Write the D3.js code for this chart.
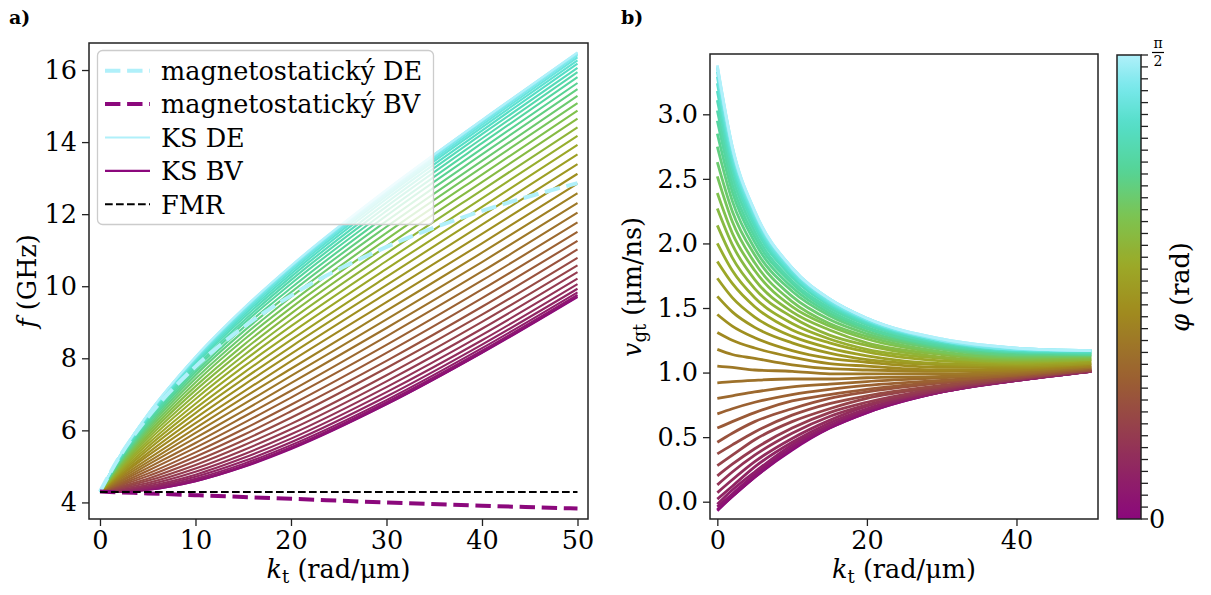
<!DOCTYPE html>
<html lang="cs">
<head>
<meta charset="UTF-8">
<title>Disperze spinových vln</title>
<script src="https://d3js.org/d3.v7.min.js"></script>
<style>
  body { margin: 0; background: #fff; }
  svg { display: block; font-family: "DejaVu Serif", serif; }
  .tick text { font-size: 25.5px; fill: #000; font-family: "DejaVu Serif", serif; }
  .tick line { stroke: #222; stroke-width: 1.3px; }
</style>
</head>
<body>
<script>
// k_t sampling points (rad/um), shared by both panels
const kGrid = [0, 2, 5, 10, 15, 20, 30, 40, 50];

// angle of every curve (rad), also the minor ticks of the colorbar
const phiValues = [0, 0.0403, 0.0806, 0.1208, 0.1611, 0.2014, 0.2417, 0.2819, 0.3222, 0.3625,
  0.4028, 0.4430, 0.4833, 0.5236, 0.5639, 0.6042, 0.6444, 0.6847, 0.7250, 0.7653,
  0.8055, 0.8458, 0.8861, 0.9264, 0.9666, 1.0069, 1.0472, 1.0875, 1.1278, 1.1680,
  1.2083, 1.2486, 1.2889, 1.3291, 1.3694, 1.4097, 1.4500, 1.4902, 1.5305, 1.5708];

// panel a) KS frequency f (GHz): one row per k in kGrid, one column per phi
const fTable = [
  [4.30,4.30,4.30,4.30,4.30,4.30,4.30,4.30,4.30,4.30,4.30,4.30,4.30,4.30,4.30,4.30,4.30,4.30,4.30,4.30,
   4.30,4.30,4.30,4.30,4.30,4.30,4.30,4.30,4.30,4.30,4.30,4.30,4.30,4.30,4.30,4.30,4.30,4.30,4.30,4.30],
  [4.29,4.29,4.30,4.31,4.32,4.34,4.35,4.38,4.40,4.43,4.46,4.49,4.52,4.56,4.59,4.63,4.67,4.71,4.74,4.78,
   4.82,4.86,4.90,4.94,4.97,5.01,5.04,5.07,5.10,5.13,5.15,5.17,5.19,5.21,5.23,5.24,5.25,5.26,5.26,5.26],
  [4.35,4.35,4.36,4.39,4.41,4.45,4.49,4.54,4.60,4.66,4.73,4.80,4.88,4.96,5.04,5.12,5.20,5.29,5.37,5.46,
   5.54,5.62,5.70,5.78,5.85,5.92,5.99,6.05,6.11,6.17,6.22,6.27,6.31,6.34,6.37,6.40,6.42,6.43,6.44,6.45],
  [4.59,4.59,4.62,4.66,4.71,4.77,4.85,4.94,5.04,5.15,5.27,5.39,5.52,5.65,5.79,5.93,6.06,6.20,6.34,6.48,
   6.61,6.74,6.87,6.99,7.11,7.22,7.33,7.43,7.53,7.61,7.69,7.76,7.83,7.88,7.93,7.97,8.00,8.02,8.04,8.04],
  [4.98,4.99,5.02,5.07,5.14,5.23,5.33,5.45,5.58,5.72,5.87,6.03,6.20,6.37,6.54,6.72,6.90,7.07,7.25,7.42,
   7.59,7.76,7.92,8.07,8.22,8.36,8.50,8.62,8.74,8.85,8.95,9.03,9.11,9.18,9.24,9.29,9.33,9.36,9.37,9.38],
  [5.48,5.50,5.53,5.59,5.67,5.77,5.89,6.03,6.18,6.35,6.53,6.71,6.91,7.10,7.31,7.51,7.71,7.92,8.12,8.32,
   8.51,8.70,8.89,9.07,9.24,9.40,9.55,9.70,9.83,9.95,10.07,10.17,10.26,10.34,10.41,10.47,10.51,10.54,10.56,10.57],
  [6.72,6.73,6.78,6.84,6.94,7.06,7.20,7.36,7.53,7.73,7.93,8.15,8.37,8.61,8.84,9.08,9.32,9.56,9.80,10.03,
   10.26,10.48,10.70,10.91,11.11,11.30,11.48,11.65,11.81,11.96,12.09,12.21,12.32,12.42,12.50,12.56,12.61,12.65,12.67,12.68],
  [8.15,8.16,8.21,8.28,8.38,8.50,8.65,8.82,9.01,9.21,9.43,9.67,9.91,10.16,10.41,10.67,10.93,11.19,11.45,11.71,
   11.96,12.20,12.44,12.67,12.89,13.10,13.30,13.48,13.66,13.82,13.97,14.10,14.22,14.32,14.41,14.48,14.54,14.58,14.61,14.61],
  [9.70,9.72,9.76,9.83,9.93,10.06,10.21,10.39,10.58,10.79,11.02,11.26,11.51,11.77,12.04,12.31,12.58,12.85,13.12,13.39,
   13.66,13.92,14.17,14.41,14.65,14.87,15.08,15.28,15.47,15.64,15.80,15.94,16.06,16.18,16.27,16.35,16.41,16.45,16.48,16.49]
];

// magnetostatic DE / BV and FMR (GHz) on kGrid
const msDE = [4.30, 5.25, 6.36, 7.77, 8.86, 9.74, 11.09, 12.09, 12.86];
const msBV = [4.30, 4.28, 4.25, 4.20, 4.15, 4.10, 4.00, 3.91, 3.83];
const fmrK = [0, 50];
const fmrF = [4.29, 4.29];

// panel b) group velocity v_gt (um/ns): one row per k in kGrid, one column per phi
const vgTable = [
  [-0.07,-0.06,-0.04,-0.02,0.02,0.07,0.13,0.20,0.28,0.37,0.46,0.57,0.68,0.80,0.92,1.05,1.18,1.31,1.45,1.59,
   1.73,1.86,2.00,2.14,2.27,2.39,2.52,2.63,2.75,2.85,2.95,3.03,3.11,3.18,3.24,3.29,3.33,3.36,3.37,3.38],
  [0.04,0.04,0.06,0.09,0.12,0.17,0.23,0.29,0.36,0.44,0.53,0.62,0.72,0.82,0.93,1.04,1.14,1.25,1.36,1.47,
   1.58,1.69,1.79,1.89,1.99,2.08,2.17,2.25,2.33,2.40,2.46,2.52,2.58,2.62,2.66,2.70,2.72,2.74,2.75,2.75],
  [0.19,0.19,0.21,0.23,0.27,0.31,0.36,0.41,0.48,0.54,0.62,0.69,0.77,0.85,0.94,1.02,1.11,1.19,1.27,1.35,
   1.43,1.51,1.58,1.65,1.72,1.79,1.85,1.91,1.96,2.01,2.05,2.09,2.13,2.16,2.19,2.21,2.23,2.24,2.25,2.25],
  [0.40,0.41,0.42,0.44,0.46,0.49,0.53,0.57,0.62,0.67,0.72,0.78,0.83,0.89,0.95,1.01,1.06,1.12,1.17,1.23,
   1.28,1.33,1.38,1.43,1.47,1.51,1.55,1.59,1.63,1.66,1.69,1.71,1.74,1.76,1.77,1.79,1.80,1.81,1.81,1.81],
  [0.57,0.57,0.58,0.59,0.61,0.63,0.66,0.69,0.72,0.76,0.80,0.83,0.87,0.91,0.95,0.99,1.03,1.07,1.11,1.15,
   1.19,1.23,1.26,1.29,1.33,1.36,1.38,1.41,1.44,1.46,1.48,1.50,1.52,1.53,1.54,1.55,1.56,1.57,1.57,1.57],
  [0.69,0.69,0.70,0.71,0.72,0.74,0.75,0.77,0.80,0.82,0.85,0.87,0.90,0.93,0.96,0.99,1.02,1.05,1.08,1.10,
   1.13,1.16,1.18,1.21,1.23,1.26,1.28,1.30,1.32,1.34,1.35,1.37,1.38,1.39,1.40,1.41,1.41,1.42,1.42,1.42],
  [0.85,0.85,0.85,0.85,0.86,0.86,0.87,0.88,0.89,0.90,0.92,0.93,0.94,0.96,0.97,0.99,1.01,1.02,1.04,1.06,
   1.07,1.09,1.11,1.12,1.14,1.15,1.16,1.18,1.19,1.20,1.21,1.22,1.23,1.24,1.24,1.25,1.25,1.25,1.26,1.26],
  [0.94,0.94,0.94,0.94,0.94,0.95,0.95,0.95,0.96,0.96,0.97,0.98,0.98,0.99,1.00,1.01,1.02,1.03,1.04,1.05,
   1.06,1.07,1.08,1.09,1.10,1.11,1.12,1.13,1.14,1.15,1.16,1.16,1.17,1.17,1.18,1.18,1.18,1.19,1.19,1.19],
  [1.01,1.01,1.01,1.01,1.01,1.01,1.01,1.02,1.02,1.02,1.02,1.03,1.03,1.04,1.04,1.05,1.05,1.06,1.07,1.07,
   1.08,1.09,1.10,1.10,1.11,1.12,1.13,1.13,1.14,1.14,1.15,1.15,1.16,1.16,1.17,1.17,1.17,1.17,1.17,1.17]
];

// tick values
const fTicksX = [0, 10, 20, 30, 40, 50];
const fTicksY = [4, 6, 8, 10, 12, 14, 16];
const vgTicksX = [0, 20, 40];
const vgTicksY = [0, 0.5, 1.0, 1.5, 2.0, 2.5, 3.0];

const legendLabels = ["magnetostatický DE", "magnetostatický BV", "KS DE", "KS BV", "FMR"];

// colormap purple -> olive -> turquoise -> pale cyan
const cmapPos = [0, 0.15, 0.30, 0.45, 0.55, 0.65, 0.75, 0.85, 0.93, 1];
const cmapCol = ["#8b087c", "#933258", "#9b5f32", "#a08c1e", "#9baa28", "#7dc350", "#55d496",
                 "#55dec8", "#78e8eb", "#b0f0fa"];
const cmap = d3.scaleLinear().domain(cmapPos).range(cmapCol).interpolate(d3.interpolateRgb);
const HALF_PI = Math.PI / 2;
const colorOf = phi => cmap(phi / HALF_PI);

const FS = 25.5;
const W = 1211, H = 595;
const svg = d3.select("body").append("svg").attr("width", W).attr("height", H);

const line = d3.line().curve(d3.curveMonotoneX);

function frame(x0, y0, x1, y1) {
  svg.append("rect")
    .attr("x", x0).attr("y", y0).attr("width", x1 - x0).attr("height", y1 - y0)
    .attr("fill", "none").attr("stroke", "#222").attr("stroke-width", 1.5);
}

function clip(id, x0, y0, x1, y1) {
  svg.append("clipPath").attr("id", id).append("rect")
    .attr("x", x0).attr("y", y0).attr("width", x1 - x0).attr("height", y1 - y0);
}

// ---------- panel a) ----------
const A = {x0: 89, x1: 588, y0: 43, y1: 519};
const xA = d3.scaleLinear().domain([-1.15, 51.1]).range([A.x0, A.x1]);
const yA = d3.scaleLinear().domain([3.54, 16.75]).range([A.y1, A.y0]);
clip("clipA", A.x0, A.y0, A.x1, A.y1);
const gA = svg.append("g").attr("clip-path", "url(#clipA)");

phiValues.forEach((phi, i) => {
  const pts = kGrid.map((k, j) => [xA(k), yA(fTable[j][i])]);
  gA.append("path").attr("d", line(pts)).attr("fill", "none")
    .attr("stroke", colorOf(phi)).attr("stroke-width", 2.1);
});
gA.append("path").attr("d", line(kGrid.map((k, j) => [xA(k), yA(msDE[j])])))
  .attr("fill", "none").attr("stroke", colorOf(HALF_PI)).attr("stroke-width", 4)
  .attr("stroke-dasharray", "15.4,6.7");
gA.append("path").attr("d", line(kGrid.map((k, j) => [xA(k), yA(msBV[j])])))
  .attr("fill", "none").attr("stroke", colorOf(0)).attr("stroke-width", 4)
  .attr("stroke-dasharray", "15.4,6.7");
gA.append("path").attr("d", line(fmrK.map((k, j) => [xA(k), yA(fmrF[j])])))
  .attr("fill", "none").attr("stroke", "#000").attr("stroke-width", 2)
  .attr("stroke-dasharray", "7.7,3.3");

svg.append("g").attr("transform", `translate(0,${A.y1})`)
  .call(d3.axisBottom(xA).tickValues(fTicksX).tickSize(7).tickPadding(5).tickSizeOuter(0))
  .call(g => g.select(".domain").remove());
svg.append("g").attr("transform", `translate(${A.x0},0)`)
  .call(d3.axisLeft(yA).tickValues(fTicksY).tickSize(7).tickPadding(5).tickSizeOuter(0))
  .call(g => g.select(".domain").remove());
frame(A.x0, A.y0, A.x1, A.y1);

// legend
const leg = svg.append("g");
leg.append("rect").attr("x", 97.5).attr("y", 50.5).attr("width", 336).attr("height", 174)
  .attr("rx", 5).attr("fill", "#fff").attr("fill-opacity", 0.8)
  .attr("stroke", "#ccc").attr("stroke-width", 1.3);
const legStyles = [
  {c: colorOf(HALF_PI), w: 4, dash: "15.4,6.7"},
  {c: colorOf(0), w: 4, dash: "15.4,6.7"},
  {c: colorOf(HALF_PI), w: 2.1, dash: null},
  {c: colorOf(0), w: 2.1, dash: null},
  {c: "#000", w: 2, dash: "7.7,3.3"}
];
legendLabels.forEach((t, j) => {
  const yy = 70.7 + 33.4 * j;
  leg.append("line").attr("x1", 105).attr("x2", 150).attr("y1", yy).attr("y2", yy)
    .attr("stroke", legStyles[j].c).attr("stroke-width", legStyles[j].w)
    .attr("stroke-dasharray", legStyles[j].dash);
  leg.append("text").attr("x", 161).attr("y", yy + 9.3).attr("font-size", FS).text(t);
});

// labels a)
svg.append("text").attr("x", 9).attr("y", 24).attr("font-size", 19).attr("font-weight", "bold").text("a)");
svg.append("text").attr("transform", "translate(36,281) rotate(-90)").attr("text-anchor", "middle")
  .attr("font-size", FS)
  .call(t => { t.append("tspan").attr("font-style", "italic").text("f"); t.append("tspan").text(" (GHz)"); });

function kLabel(cx) {
  const t = svg.append("text").attr("x", cx).attr("y", 578).attr("text-anchor", "middle").attr("font-size", FS);
  t.append("tspan").attr("font-style", "italic").text("k");
  t.append("tspan").attr("font-size", 18).attr("dy", 5).text("t");
  t.append("tspan").attr("dy", -5).text(" (rad/μm)");
}
kLabel((A.x0 + A.x1) / 2);

// ---------- panel b) ----------
const B = {x0: 710, x1: 1098, y0: 54, y1: 519};
const xB = d3.scaleLinear().domain([-0.98, 50.9]).range([B.x0, B.x1]);
const yB = d3.scaleLinear().domain([-0.134, 3.467]).range([B.y1, B.y0]);
clip("clipB", B.x0, B.y0, B.x1, B.y1);
const gB = svg.append("g").attr("clip-path", "url(#clipB)");
phiValues.forEach((phi, i) => {
  const pts = kGrid.map((k, j) => [xB(k), yB(vgTable[j][i])]);
  gB.append("path").attr("d", line(pts)).attr("fill", "none")
    .attr("stroke", colorOf(phi)).attr("stroke-width", 2.8);
});
svg.append("g").attr("transform", `translate(0,${B.y1})`)
  .call(d3.axisBottom(xB).tickValues(vgTicksX).tickSize(7).tickPadding(5).tickSizeOuter(0))
  .call(g => g.select(".domain").remove());
svg.append("g").attr("transform", `translate(${B.x0},0)`)
  .call(d3.axisLeft(yB).tickValues(vgTicksY).tickFormat(d3.format(".1f")).tickSize(7).tickPadding(5).tickSizeOuter(0))
  .call(g => g.select(".domain").remove());
frame(B.x0, B.y0, B.x1, B.y1);

svg.append("text").attr("x", 621).attr("y", 24).attr("font-size", 19).attr("font-weight", "bold").text("b)");
svg.append("text").attr("transform", "translate(641,287) rotate(-90)").attr("text-anchor", "middle")
  .attr("font-size", FS)
  .call(t => {
    t.append("tspan").attr("font-style", "italic").text("v");
    t.append("tspan").attr("font-size", 18).attr("dy", 5).text("gt");
    t.append("tspan").attr("dy", -5).text(" (μm/ns)");
  });
kLabel((B.x0 + B.x1) / 2);

// ---------- colorbar ----------
const C = {x0: 1117, x1: 1141, y0: 55, y1: 519};
const yC = d3.scaleLinear().domain([0, HALF_PI]).range([C.y1, C.y0]);
const grad = svg.append("defs").append("linearGradient").attr("id", "cbGrad")
  .attr("x1", 0).attr("y1", 1).attr("x2", 0).attr("y2", 0);
d3.range(0, 1.0001, 0.02).forEach(v => grad.append("stop").attr("offset", v).attr("stop-color", cmap(v)));
svg.append("rect").attr("x", C.x0).attr("y", C.y0).attr("width", C.x1 - C.x0).attr("height", C.y1 - C.y0)
  .attr("fill", "url(#cbGrad)");
svg.append("g").selectAll("line").data(phiValues).join("line")
  .attr("x1", C.x1).attr("x2", C.x1 + 7)
  .attr("y1", d => yC(d)).attr("y2", d => yC(d))
  .attr("stroke", "#222").attr("stroke-width", 1.3);
frame(C.x0, C.y0, C.x1, C.y1);
svg.append("text").attr("x", 1149).attr("y", yC(0) + 9).attr("font-size", FS).text("0");
svg.append("text").attr("x", 1158).attr("y", 48).attr("text-anchor", "middle")
  .attr("font-size", 14).text("π");
svg.append("line").attr("x1", 1152).attr("x2", 1164).attr("y1", 52.5).attr("y2", 52.5)
  .attr("stroke", "#000").attr("stroke-width", 1.2);
svg.append("text").attr("x", 1158).attr("y", 66).attr("text-anchor", "middle")
  .attr("font-size", 14).text("2");
svg.append("text").attr("transform", "translate(1189,287) rotate(-90)").attr("text-anchor", "middle")
  .attr("font-size", FS)
  .call(t => { t.append("tspan").attr("font-style", "italic").text("φ"); t.append("tspan").text(" (rad)"); });
</script>
</body>
</html>
